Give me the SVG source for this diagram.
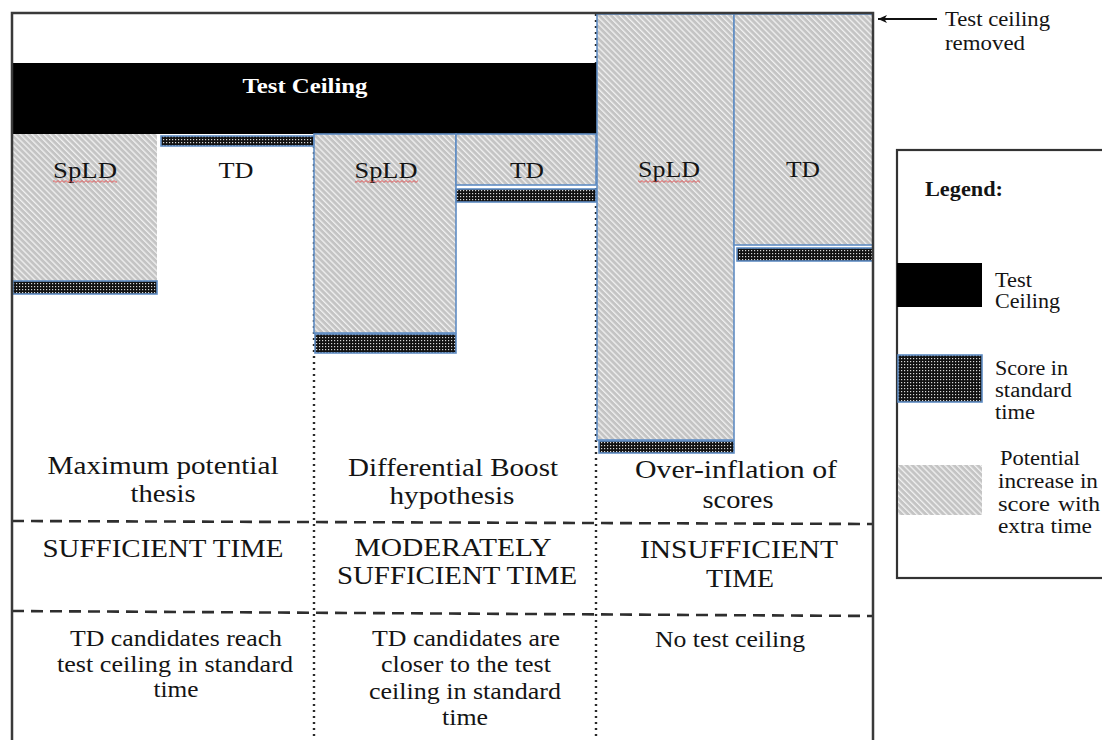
<svg xmlns="http://www.w3.org/2000/svg" width="1102" height="740" viewBox="0 0 1102 740" font-family="'Liberation Serif', 'Times New Roman', serif">
<style>
.t{font-family:"Liberation Serif","Times New Roman",serif;fill:#141414}
.h{font-size:25px}
.s{font-size:22.5px}
.lab{font-size:23px}
.lg{font-size:20px}
.b{font-weight:bold}
.box{stroke:#5f8dc4;stroke-width:1.6}
.dot{stroke:#2a2a2a;stroke-width:2.4;stroke-dasharray:2 4;fill:none}
.dash{stroke:#2e2e2e;stroke-width:2.6;stroke-dasharray:12 7;fill:none}
</style>
<defs>
<pattern id="hatch" patternUnits="userSpaceOnUse" width="4.2" height="4.2" patternTransform="rotate(45)">
<rect width="4.2" height="4.2" fill="#c4c4c4"/>
<line x1="0" y1="1" x2="4.2" y2="1" stroke="#f2f2f2" stroke-width="1.3"/>
</pattern>
<pattern id="dots" patternUnits="userSpaceOnUse" width="3" height="3">
<rect width="3" height="3" fill="#111"/>
<rect x="1" y="1" width="1.2" height="1.2" fill="#d8d8d8"/>
</pattern>
<pattern id="squig" patternUnits="userSpaceOnUse" width="4" height="3">
<path d="M0,2.4 L2,0.6 L4,2.4" stroke="#e04848" stroke-width="0.9" fill="none"/>
</pattern>
<marker id="arr" markerWidth="10" markerHeight="10" refX="9" refY="5" orient="auto" markerUnits="userSpaceOnUse">
<path d="M0,1 L9,5 L0,9 L2.5,5 Z" fill="#111"/>
</marker>
</defs>
<rect width="1102" height="740" fill="#fff"/>

<g id="dividers">
<line class="dot" x1="314" y1="146" x2="314" y2="740"/>
<line class="dot" x1="596" y1="14" x2="596" y2="740"/>
<line class="dash" x1="12" y1="521" x2="873" y2="524"/>
<line class="dash" x1="12" y1="611" x2="873" y2="616"/>
</g>

<g id="test-ceiling">
<rect x="12" y="63" width="585" height="71" fill="#000"/>
<text class="t b" x="305" y="93" font-size="21" text-anchor="middle" style="fill:#fff" textLength="125" lengthAdjust="spacingAndGlyphs">Test Ceiling</text>
</g>

<g id="col1">
<rect x="13" y="134" width="144" height="147" fill="url(#hatch)"/>
<rect class="box" x="13" y="281" width="144" height="13" fill="url(#dots)"/>
<rect class="box" x="161" y="136" width="153" height="10" fill="url(#dots)"/>
<text class="t lab" x="85" y="178" text-anchor="middle" textLength="64" lengthAdjust="spacingAndGlyphs">SpLD</text>
<rect x="53" y="180" width="64" height="3" fill="url(#squig)"/>
<text class="t lab" x="236" y="178" text-anchor="middle" textLength="35" lengthAdjust="spacingAndGlyphs">TD</text>
</g>

<g id="col2">
<rect class="box" x="314" y="134" width="142" height="199" fill="url(#hatch)"/>
<rect class="box" x="315" y="334" width="141" height="19" fill="url(#dots)"/>
<rect class="box" x="456" y="134" width="140" height="51" fill="url(#hatch)"/>
<rect class="box" x="456" y="189" width="140" height="13" fill="url(#dots)"/>
<text class="t lab" x="386" y="178" text-anchor="middle" textLength="63" lengthAdjust="spacingAndGlyphs">SpLD</text>
<rect x="355" y="180" width="63" height="3" fill="url(#squig)"/>
<text class="t lab" x="527" y="178" text-anchor="middle" textLength="34" lengthAdjust="spacingAndGlyphs">TD</text>
</g>

<g id="col3">
<rect class="box" x="597" y="14" width="137" height="426" fill="url(#hatch)"/>
<rect class="box" x="599" y="441" width="135" height="12" fill="url(#dots)"/>
<rect class="box" x="734" y="14" width="139" height="231" fill="url(#hatch)"/>
<rect class="box" x="737" y="248" width="136" height="13" fill="url(#dots)"/>
<text class="t lab" x="669" y="177" text-anchor="middle" textLength="62" lengthAdjust="spacingAndGlyphs">SpLD</text>
<rect x="638" y="180" width="62" height="3" fill="url(#squig)"/>
<text class="t lab" x="803" y="177" text-anchor="middle" textLength="34" lengthAdjust="spacingAndGlyphs">TD</text>
</g>

<g id="frame">
<path d="M12,740 V13 H873 V740" fill="none" stroke="#3a3a3a" stroke-width="2.5"/>
</g>

<g id="row-theory">
<text class="t h" x="163" y="474" text-anchor="middle" textLength="231" lengthAdjust="spacingAndGlyphs">Maximum potential</text>
<text class="t h" x="163" y="502" text-anchor="middle" textLength="65" lengthAdjust="spacingAndGlyphs">thesis</text>
<text class="t h" x="453" y="476" text-anchor="middle" textLength="210" lengthAdjust="spacingAndGlyphs">Differential Boost</text>
<text class="t h" x="452" y="504" text-anchor="middle" textLength="125" lengthAdjust="spacingAndGlyphs">hypothesis</text>
<text class="t h" x="736" y="478" text-anchor="middle" textLength="202" lengthAdjust="spacingAndGlyphs">Over-inflation of</text>
<text class="t h" x="738" y="508" text-anchor="middle" textLength="71" lengthAdjust="spacingAndGlyphs">scores</text>
</g>

<g id="row-time">
<text class="t h" x="163" y="557" text-anchor="middle" textLength="241" lengthAdjust="spacingAndGlyphs">SUFFICIENT TIME</text>
<text class="t h" x="453" y="556" text-anchor="middle" textLength="197" lengthAdjust="spacingAndGlyphs">MODERATELY</text>
<text class="t h" x="457" y="584" text-anchor="middle" textLength="240" lengthAdjust="spacingAndGlyphs">SUFFICIENT TIME</text>
<text class="t h" x="739" y="558" text-anchor="middle" textLength="198" lengthAdjust="spacingAndGlyphs">INSUFFICIENT</text>
<text class="t h" x="740" y="587" text-anchor="middle" textLength="68" lengthAdjust="spacingAndGlyphs">TIME</text>
</g>

<g id="row-desc">
<text class="t s" x="176" y="646" text-anchor="middle" textLength="212" lengthAdjust="spacingAndGlyphs">TD candidates reach</text>
<text class="t s" x="175" y="672" text-anchor="middle" textLength="236" lengthAdjust="spacingAndGlyphs">test ceiling in standard</text>
<text class="t s" x="176" y="697" text-anchor="middle" textLength="45" lengthAdjust="spacingAndGlyphs">time</text>
<text class="t s" x="466" y="646" text-anchor="middle" textLength="188" lengthAdjust="spacingAndGlyphs">TD candidates are</text>
<text class="t s" x="466" y="672" text-anchor="middle" textLength="170" lengthAdjust="spacingAndGlyphs">closer to the test</text>
<text class="t s" x="465" y="699" text-anchor="middle" textLength="192" lengthAdjust="spacingAndGlyphs">ceiling in standard</text>
<text class="t s" x="465" y="725" text-anchor="middle" textLength="46" lengthAdjust="spacingAndGlyphs">time</text>
<text class="t s" x="730" y="647" text-anchor="middle" textLength="150" lengthAdjust="spacingAndGlyphs">No test ceiling</text>
</g>

<g id="connectors">
<line x1="937" y1="19" x2="878" y2="19" stroke="#111" stroke-width="1.8" marker-end="url(#arr)"/>
</g>

<g id="note-removed">
<text class="t lg" x="945" y="26" textLength="105" lengthAdjust="spacingAndGlyphs">Test ceiling</text>
<text class="t lg" x="945" y="50" textLength="80" lengthAdjust="spacingAndGlyphs">removed</text>
</g>

<g id="legend">
<rect x="897" y="150" width="220" height="428" fill="#fff" stroke="#333" stroke-width="2.2"/>
<text class="t lg b" x="925" y="196" textLength="78" lengthAdjust="spacingAndGlyphs">Legend:</text>
<rect x="897" y="263" width="85" height="44" fill="#000"/>
<text class="t lg" x="995" y="287" textLength="37" lengthAdjust="spacingAndGlyphs">Test</text>
<text class="t lg" x="995" y="308" textLength="65" lengthAdjust="spacingAndGlyphs">Ceiling</text>
<rect class="box" x="898" y="355" width="84" height="47" fill="url(#dots)"/>
<text class="t lg" x="995" y="375" textLength="73" lengthAdjust="spacingAndGlyphs">Score in</text>
<text class="t lg" x="995" y="397" textLength="77" lengthAdjust="spacingAndGlyphs">standard</text>
<text class="t lg" x="995" y="419" textLength="40" lengthAdjust="spacingAndGlyphs">time</text>
<rect x="898" y="465" width="84" height="50" fill="url(#hatch)"/>
<text class="t lg" x="1000" y="465" textLength="80" lengthAdjust="spacingAndGlyphs">Potential</text>
<text class="t lg" x="998" y="488" textLength="100" lengthAdjust="spacingAndGlyphs">increase in</text>
<text class="t lg" x="998" y="511"><tspan textLength="52" lengthAdjust="spacingAndGlyphs">score</tspan><tspan x="1058" textLength="42" lengthAdjust="spacingAndGlyphs">with</tspan></text>
<text class="t lg" x="998" y="533" textLength="94" lengthAdjust="spacingAndGlyphs">extra time</text>
</g>
</svg>
